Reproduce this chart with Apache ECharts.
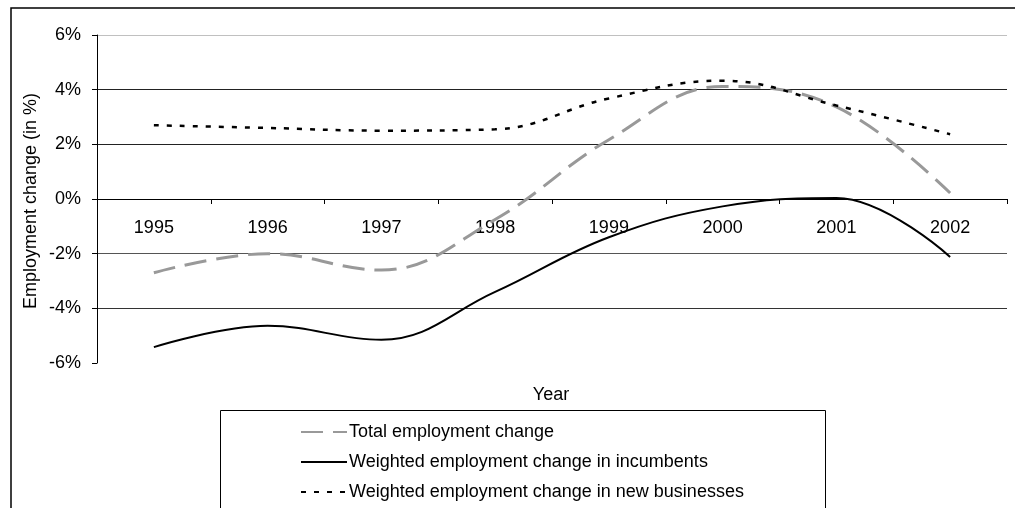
<!DOCTYPE html>
<html>
<head>
<meta charset="utf-8">
<script src="https://cdn.jsdelivr.net/npm/echarts@6/dist/echarts.min.js"></script>
<style>html,body{margin:0;padding:0;background:#fff}#c{width:1015px;height:508px}</style>
</head>
<body>
<div id="c"></div>
<script>
const years = ['1995','1996','1997','1998','1999','2000','2001','2002'];
const totalChange = [-2.7, -2.0, -2.6, -0.75, 2.17, 4.12, 3.37, 0.22];
const incumbents = [-5.42, -4.64, -5.15, -3.4, -1.4, -0.27, 0.04, -2.12];
const newBusinesses = [2.7, 2.6, 2.5, 2.55, 3.68, 4.33, 3.42, 2.37];
const yTicks = [-6, -4, -2, 0, 2, 4, 6];
const seriesNames = ['Total employment change', 'Weighted employment change in incumbents', 'Weighted employment change in new businesses'];

const font = '"Liberation Sans", Arial, sans-serif';
const chart = echarts.init(document.getElementById('c'), null, {renderer: 'canvas'});
chart.setOption({
  animation: false,
  backgroundColor: '#fff',
  grid: {left: 97, right: 8, top: 35, bottom: 145, containLabel: false},
  xAxis: {
    type: 'category',
    data: years,
    boundaryGap: true,
    position: 'bottom',
    offset: -164,
    axisLine: {onZero: false, lineStyle: {color: '#000', width: 1}},
    axisTick: {show: true, length: 5, lineStyle: {color: '#000'}},
    axisLabel: {color: '#000', fontSize: 18, fontFamily: font, margin: 20},
    splitLine: {show: false}
  },
  yAxis: {
    type: 'value',
    min: yTicks[0],
    max: yTicks[yTicks.length - 1],
    interval: 2,
    axisLine: {show: true, lineStyle: {color: '#000', width: 1}},
    axisTick: {show: true, length: 5, lineStyle: {color: '#000'}},
    axisLabel: {color: '#000', fontSize: 18, fontFamily: font, margin: 16, formatter: v => v + '%'},
    splitLine: {show: true, lineStyle: {color: ['rgba(0,0,0,0)', '#333', '#555', '#000', '#222', '#222', '#c0c0c0'], width: 1}}
  },
  legend: {
    orient: 'vertical',
    left: 295,
    top: 418,
    itemWidth: 46,
    itemHeight: 18,
    itemGap: 12,
    itemStyle: {opacity: 0},
    textStyle: {color: '#000', fontSize: 18, fontFamily: font, padding: [0, 0, 0, -3]},
    data: seriesNames
  },
  graphic: [
    {type: 'rect', shape: {x: 11, y: 8, width: 1012, height: 512}, style: {fill: 'none', stroke: '#000', lineWidth: 1.5}, silent: true, z: -1},
    {type: 'rect', shape: {x: 220.5, y: 410.5, width: 605, height: 120}, style: {fill: 'none', stroke: '#000', lineWidth: 1}, silent: true},
    {type: 'text', x: 551, y: 395, style: {text: 'Year', fill: '#000', font: '18px ' + font, align: 'center', verticalAlign: 'middle'}},
    {type: 'text', x: 31, y: 201, rotation: Math.PI / 2, style: {text: 'Employment change (in %)', fill: '#000', font: '18px ' + font, align: 'center', verticalAlign: 'middle'}}
  ],
  series: [
    {name: seriesNames[0], type: 'line', data: totalChange, smooth: 0.4, symbol: 'none',
     lineStyle: {color: '#999', width: 3, type: [22, 10]}, itemStyle: {color: '#999'}},
    {name: seriesNames[1], type: 'line', data: incumbents, smooth: 0.4, symbol: 'none',
     lineStyle: {color: '#000', width: 2}, itemStyle: {color: '#000'}},
    {name: seriesNames[2], type: 'line', data: newBusinesses, smooth: 0.4, symbol: 'none',
     lineStyle: {color: '#000', width: 2.5, type: [5, 8]}, itemStyle: {color: '#000'}}
  ]
});
</script>
</body>
</html>
